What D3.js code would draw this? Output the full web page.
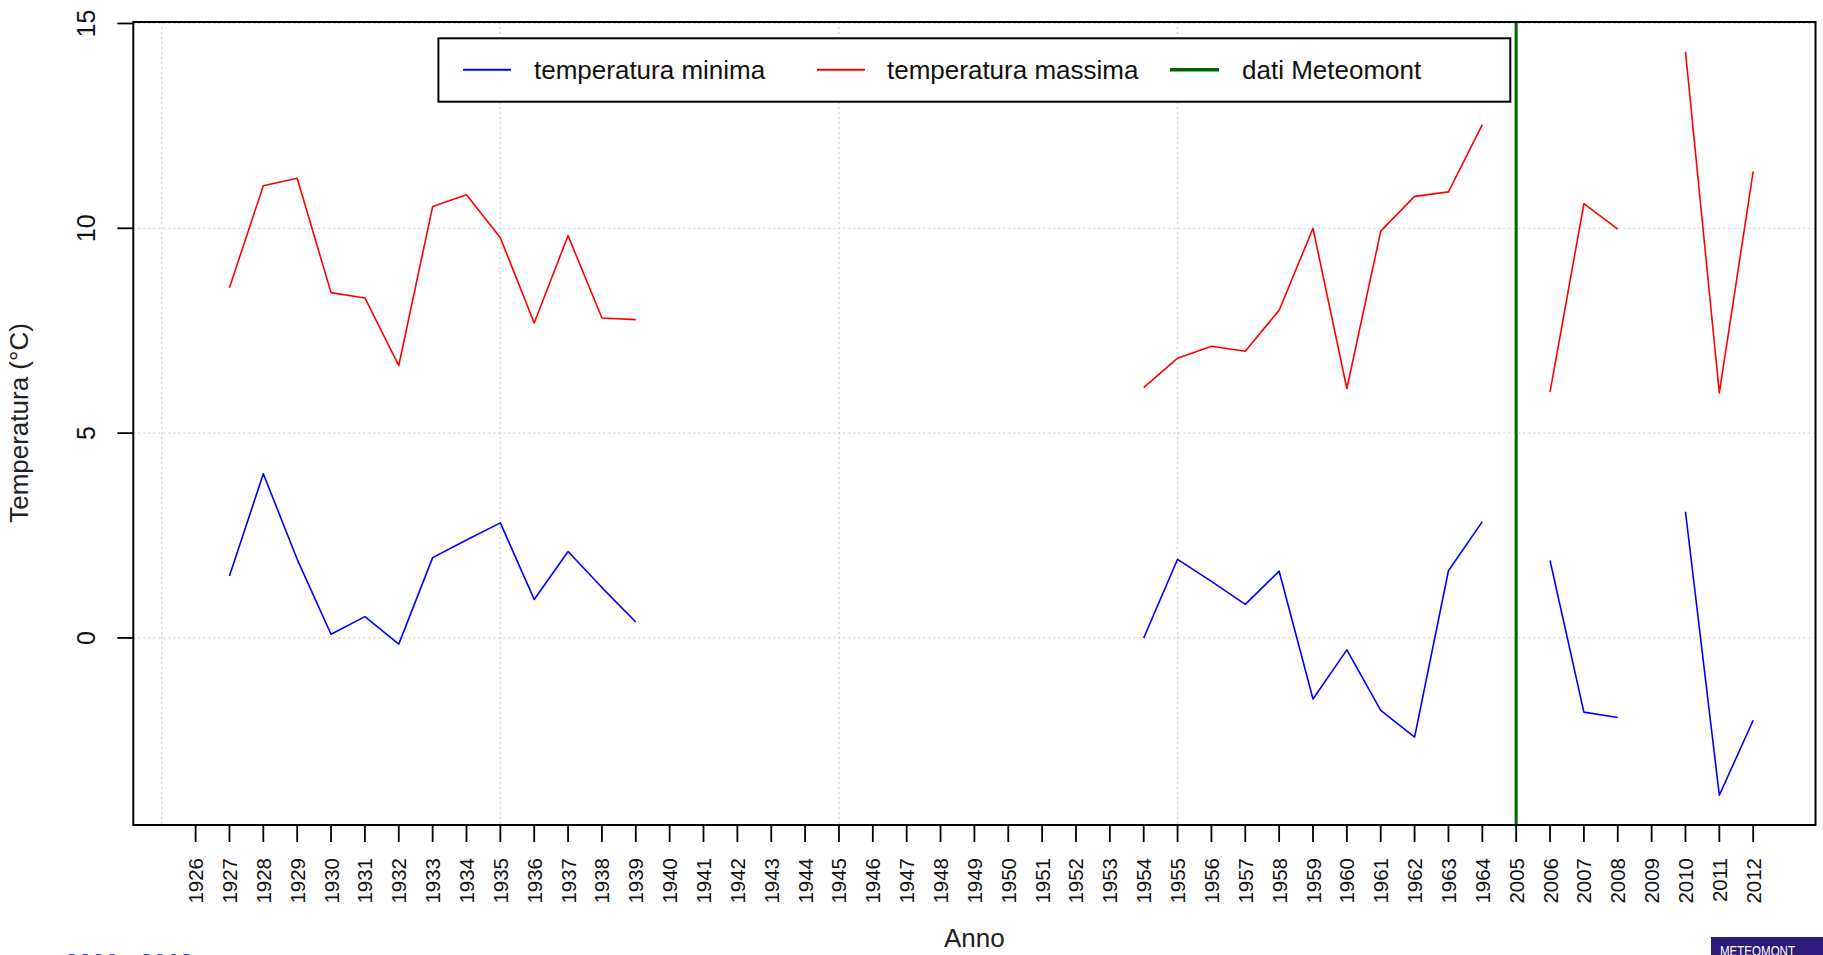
<!DOCTYPE html>
<html>
<head>
<meta charset="utf-8">
<script src="https://cdn.jsdelivr.net/npm/d3@7"></script>
<style>
  html, body { margin: 0; padding: 0; background: #fff; }
  svg { display: block; font-family: "Liberation Sans", Arial, sans-serif; }
</style>
</head>
<body>
<svg id="chart" width="1823" height="955"></svg>
<script>
// ---- data ----
const years = [
  "1926","1927","1928","1929","1930","1931","1932","1933","1934","1935","1936","1937","1938","1939",
  "1940","1941","1942","1943","1944","1945","1946","1947","1948","1949","1950","1951","1952","1953",
  "1954","1955","1956","1957","1958","1959","1960","1961","1962","1963","1964",
  "2005","2006","2007","2008","2009","2010","2011","2012"
];
const tempMin = [
  null, 1.51, 4.01, 1.92, 0.09, 0.52, -0.15, 1.96, 2.39, 2.81, 0.94, 2.11, 1.23, 0.39,
  null, null, null, null, null, null, null, null, null, null, null, null, null, null,
  0.00, 1.92, 1.38, 0.82, 1.63, -1.49, -0.29, -1.77, -2.42, 1.64, 2.84,
  null, 1.89, -1.81, -1.94, null, 3.08, -3.84, -2.01
];
const tempMax = [
  null, 8.55, 11.04, 11.22, 8.43, 8.30, 6.65, 10.53, 10.82, 9.77, 7.69, 9.82, 7.81, 7.77,
  null, null, null, null, null, null, null, null, null, null, null, null, null, null,
  6.11, 6.83, 7.12, 7.00, 8.00, 10.00, 6.09, 9.93, 10.78, 10.89, 12.53,
  null, 6.00, 10.60, 9.98, null, 14.31, 5.98, 11.39
];
const yTicks = [0, 5, 10, 15];
const xGridIdx = [0, 10, 20, 30, 40];
const meteomontYear = "2005";
const legendLabels = ["temperatura minima", "temperatura massima", "dati Meteomont"];
const seriesColors = ["#0000ff", "#ff0000", "#006400"];

// ---- layout ----
const L = 133.3, R = 1815.5, T = 22, B = 825;
const svg = d3.select("#chart");

const n = years.length;
const xExt = 0.04 * (n - 1);
const x = d3.scaleLinear().domain([1 - xExt, n + xExt]).range([L, R]);
const allVals = tempMin.concat(tempMax).filter(v => v != null);
const vmin = d3.min(allVals), vmax = d3.max(allVals);
const yExt = 0.04 * (vmax - vmin);
const y = d3.scaleLinear().domain([vmin - yExt, vmax + yExt]).range([B, T]);

// ---- grid ----
const grid = svg.append("g").attr("stroke", "#d3d3d3").attr("stroke-width", 1.3)
  .attr("stroke-dasharray", "2,3");
grid.selectAll("line.gx").data(xGridIdx).join("line")
  .attr("x1", d => x(d)).attr("x2", d => x(d)).attr("y1", T).attr("y2", B);
grid.selectAll("line.gy").data(yTicks).join("line")
  .attr("x1", L).attr("x2", R).attr("y1", d => y(d)).attr("y2", d => y(d));

// ---- lines ----
const line = d3.line().defined(d => d.v != null).x(d => x(d.i)).y(d => y(d.v));
[tempMin, tempMax].forEach((arr, k) => {
  svg.append("path")
    .datum(arr.map((v, i) => ({ i: i + 1, v })))
    .attr("fill", "none").attr("stroke", seriesColors[k]).attr("stroke-width", 1.6)
    .attr("stroke-linejoin", "round")
    .attr("d", line);
});

// Meteomont vertical line
const mi = years.indexOf(meteomontYear) + 1;
svg.append("line").attr("x1", x(mi)).attr("x2", x(mi)).attr("y1", T).attr("y2", B)
  .attr("stroke", seriesColors[2]).attr("stroke-width", 3);

// ---- axes ----
const yAxis = svg.append("g");
yTicks.forEach(t => {
  yAxis.append("line").attr("x1", L - 16).attr("x2", L).attr("y1", y(t)).attr("y2", y(t))
    .attr("stroke", "#000").attr("stroke-width", 1.8);
  yAxis.append("text").attr("transform", `translate(95,${y(t)}) rotate(-90)`)
    .attr("text-anchor", "middle").attr("font-size", 25).attr("fill", "#111").text(t);
});

const xAxis = svg.append("g");
years.forEach((yr, i) => {
  const xi = x(i + 1);
  xAxis.append("line").attr("x1", xi).attr("x2", xi).attr("y1", B).attr("y2", B + 17)
    .attr("stroke", "#000").attr("stroke-width", 1.8);
  xAxis.append("text").attr("transform", `translate(${xi + 7.5},858) rotate(-90)`)
    .attr("text-anchor", "end").attr("font-size", 20.5).attr("fill", "#111").text(yr);
});

// box
svg.append("rect").attr("x", L).attr("y", T).attr("width", R - L).attr("height", B - T)
  .attr("fill", "none").attr("stroke", "#000").attr("stroke-width", 2);

// axis titles
svg.append("text").attr("transform", "translate(28,423) rotate(-90)")
  .attr("text-anchor", "middle").attr("font-size", 26).attr("fill", "#222").text("Temperatura (°C)");
svg.append("text").attr("x", (L + R) / 2).attr("y", 947)
  .attr("text-anchor", "middle").attr("font-size", 26).attr("fill", "#222").text("Anno");

// ---- legend ----
const lg = svg.append("g");
lg.append("rect").attr("x", 438.4).attr("y", 38.3).attr("width", 1510.3 - 438.4).attr("height", 101.7 - 38.3)
  .attr("fill", "#fff").attr("stroke", "#000").attr("stroke-width", 2);
const legItems = [
  { x1: 463, x2: 511, tx: 534, w: 2 },
  { x1: 817, x2: 865, tx: 887, w: 2 },
  { x1: 1170, x2: 1219, tx: 1242, w: 3.5 }
];
legItems.forEach((it, k) => {
  lg.append("line").attr("x1", it.x1).attr("x2", it.x2).attr("y1", 69.7).attr("y2", 69.7)
    .attr("stroke", seriesColors[k]).attr("stroke-width", it.w);
  lg.append("text").attr("x", it.tx).attr("y", 79).attr("font-size", 26).attr("fill", "#111")
    .text(legendLabels[k]);
});

// ---- watermarks (cut off at bottom) ----
svg.append("text").attr("x", 65).attr("y", 971).attr("font-size", 24).attr("fill", "#3a30c0")
  .attr("font-weight", "bold").text("2006 - 2012");
svg.append("rect").attr("x", 1711).attr("y", 937).attr("width", 112).attr("height", 18).attr("fill", "#2e1a7a");
svg.append("text").attr("x", 1720).attr("y", 955.5).attr("font-size", 14.5).attr("fill", "#fff")
  .attr("textLength", 75).attr("lengthAdjust", "spacingAndGlyphs").text("METEOMONT");
</script>
</body>
</html>
